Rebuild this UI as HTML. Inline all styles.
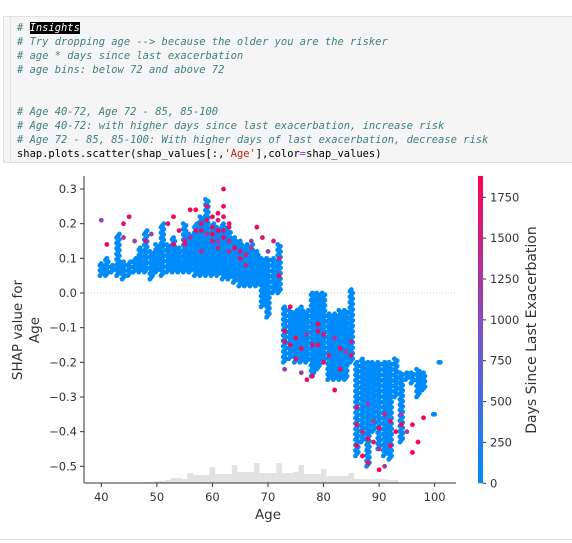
<!DOCTYPE html>
<html><head><meta charset="utf-8"><style>
body{margin:0;width:572px;height:543px;background:#fff;overflow:hidden;position:relative;font-family:"DejaVu Sans","Liberation Sans",sans-serif}
#cell{position:absolute;left:3px;top:16px;width:569px;height:147px;background:#f5f5f5;border:1px solid #e0e0e0;border-right:none;box-sizing:border-box}
#cell:before{content:"";position:absolute;left:6px;top:0;bottom:0;width:1px;background:#e3e3e3}
pre{margin:0;position:absolute;left:13px;top:4px;font-family:"DejaVu Sans Mono","Liberation Mono",monospace;font-size:10.45px;line-height:14px;color:#000}
.c{color:#408080;font-style:italic}
.hl{background:#000;color:#fff}
.s{color:#ba2121}.o{color:#aa22ff}
svg{position:absolute;left:0;top:0}
#bl{position:absolute;left:0;top:539px;width:572px;height:1px;background:#ddd}
</style></head><body>
<div id="cell"><pre><span class="c"># <span class="hl">Insights</span></span>
<span class="c"># Try dropping age --&gt; because the older you are the risker</span>
<span class="c"># age * days since last exacerbation</span>
<span class="c"># age bins: below 72 and above 72</span>


<span class="c"># Age 40-72, Age 72 - 85, 85-100</span>
<span class="c"># Age 40-72: with higher days since last exacerbation, increase risk</span>
<span class="c"># Age 72 - 85, 85-100: With higher days of last exacerbation, decrease risk</span>
shap.plots.scatter(shap_values[:,<span class="s">'Age'</span>],color<span class="o">=</span>shap_values)</pre></div>
<div id="bl"></div>
<svg id="chart" width="572" height="543"></svg>
<script>
const ages=[40,41,42,43,44,45,46,47,48,49,50,51,52,53,54,55,56,57,58,59,60,61,62,63,64,65,66,67,68,69,70,71,72,73,74,75,76,77,78,79,80,81,82,83,84,85,86,87,88,89,90,91,92,93,94,95,96,97,98,100,101];
const bandTop=[0.085,0.1,0.08,0.17,0.09,0.09,0.1,0.13,0.18,0.12,0.14,0.2,0.14,0.16,0.13,0.2,0.17,0.2,0.22,0.27,0.2,0.19,0.2,0.18,0.16,0.15,0.14,0.14,0.12,0.1,0.1,0.1,0.14,-0.04,-0.05,-0.05,-0.04,-0.05,0.0,0.0,0.0,-0.06,-0.06,-0.05,-0.05,0.01,-0.2,-0.19,-0.2,-0.2,-0.2,-0.2,-0.2,-0.19,-0.23,-0.23,-0.23,-0.22,-0.23,-0.35,-0.2];
const bandBottom=[0.05,0.05,0.06,0.05,0.04,0.05,0.06,0.06,0.06,0.04,0.06,0.05,0.06,0.06,0.06,0.06,0.06,0.05,0.05,0.05,0.05,0.05,0.04,0.04,0.03,0.02,0.02,0.02,0.02,-0.04,-0.07,0.0,0.0,-0.2,-0.19,-0.2,-0.2,-0.2,-0.24,-0.22,-0.2,-0.25,-0.25,-0.25,-0.25,-0.2,-0.47,-0.43,-0.5,-0.4,-0.45,-0.47,-0.48,-0.3,-0.43,-0.25,-0.26,-0.3,-0.28,-0.35,-0.2];
const ptAge=[40,41,44,44,45,46,48,49,52,53,54,55,56,57,58,58,59,60,60,61,61,62,62,62,63,63,64,65,66,67,68,69,70,71,72,72,
 57,58,59,59,60,60,61,61,61,62,62,63,63,64,65,66,67,56,55,53,
 73,73,74,75,76,77,77,78,79,79,80,81,82,82,83,84,85,74,76,79,73,75,78,80,83,85,
 86,86,87,87,88,88,89,89,90,90,91,91,92,92,93,94,94,96,96,97,98,86,88,90,95];
const ptVal=[0.21,0.14,0.2,0.16,0.22,0.15,0.15,0.17,0.2,0.22,0.18,0.14,0.24,0.24,0.18,0.12,0.25,0.22,0.15,0.23,0.13,0.3,0.25,0.18,0.2,0.12,0.13,0.1,0.08,0.15,0.19,0.16,0.12,0.15,0.05,0.1,
 0.18,0.2,0.21,0.17,0.19,0.17,0.21,0.18,0.15,0.22,0.16,0.19,0.15,0.13,0.12,0.11,0.13,0.16,0.15,0.14,
 -0.11,-0.22,-0.15,-0.19,-0.16,-0.25,-0.12,-0.24,-0.15,-0.09,-0.2,-0.18,-0.28,-0.13,-0.22,-0.17,-0.18,-0.04,-0.23,-0.11,-0.14,-0.13,-0.15,-0.12,-0.16,-0.14,
 -0.38,-0.44,-0.47,-0.4,-0.42,-0.49,-0.37,-0.43,-0.39,-0.51,-0.35,-0.5,-0.44,-0.37,-0.4,-0.38,-0.35,-0.38,-0.46,-0.43,-0.36,-0.33,-0.32,-0.45,-0.4];
const ptDays=[1100,1800,1700,1300,1750,1200,1600,1150,1750,1800,1700,1500,1800,1800,1750,1400,1700,1800,1600,1850,1500,1800,1750,1650,1800,1300,1600,1700,1500,1200,1800,1700,1100,1600,1800,1500,
 1800,1700,1800,1300,1750,1850,1600,1800,1200,1700,1800,1750,1400,1800,1600,1500,1200,1300,1700,1800,
 1800,1100,1750,1700,1800,1750,1200,1800,1700,1850,1750,1600,1800,1300,1750,1150,1700,1850,1200,1800,1700,1800,1750,1650,1800,1500,
 1800,1700,1850,1500,1800,1750,1100,1700,1800,1850,1500,1200,1800,1700,1750,1800,1150,1800,1850,1800,1750,1650,1100,1300,1200];
const histBins=[48,50,52,53,55,56,57,59,60,61,63,64,65,67,68,69,71,72,73,75,76,77,79,80,81,83,84,85,86,88,90,92];
const histCount=[1,2,3,5,4,10,8,8,16,9,9,18,11,11,20,10,10,20,10,11,18,9,9,14,7,7,7,10,4,4,4,3];
const xTicks=[40,50,60,70,80,90,100];
const yTicks=[0.3,0.2,0.1,0.0,-0.1,-0.2,-0.3,-0.4,-0.5];
const cTicks=[0,250,500,750,1000,1250,1500,1750];

const X=a=>101.3+(a-40)*5.556;
const Y=v=>293-v*346.6;
const CB=d=>483.3-d*0.16344;
const NS="http://www.w3.org/2000/svg";
const svg=document.getElementById('chart');
function mk(t,at){const e=document.createElementNS(NS,t);for(const k in at)e.setAttribute(k,at[k]);svg.appendChild(e);return e;}
function col(d){const t=Math.max(0,Math.min(1,d/1878));
 const s=[[0,139,251],[124,82,198],[255,0,82]];
 let a,b,u;if(t<0.5){a=s[0];b=s[1];u=t*2}else{a=s[1];b=s[2];u=(t-0.5)*2}
 return `rgb(${a.map((v,i)=>Math.round(v+(b[i]-v)*u)).join(',')})`;}
histBins.forEach((b,i)=>{const h=histCount[i];const r=mk('rect',{x:X(b)-2.8,y:483-h,width:(i<histBins.length-1?X(histBins[i+1])-X(b):11),height:h,fill:'#e2e2e2'});

});
const zl=mk('line',{x1:85,x2:455,y1:Y(0),y2:Y(0),stroke:'#ccc','stroke-dasharray':'1,2','stroke-width':1});


ages.forEach((a,i)=>{const t=bandTop[i],b=bandBottom[i];const n=Math.max(1,Math.round((t-b)*346.6/1.8));
 for(let k=0;k<=n;k++){const v=b+(t-b)*k/n;const off=((k%3)-1)*1.4;
  const c=mk('circle',{cx:X(a)+off,cy:Y(v),r:2.4,fill:'#008bfb'});
  
  }});
ptAge.forEach((a,i)=>{const c=mk('circle',{cx:X(a),cy:Y(ptVal[i]),r:2.4,fill:col(ptDays[i])});
 
 });
mk('line',{x1:84,x2:84,y1:176,y2:483,stroke:'#333','stroke-width':1});
mk('line',{x1:84,x2:456,y1:483,y2:483,stroke:'#333','stroke-width':1});
xTicks.forEach(t=>{mk('line',{x1:X(t),x2:X(t),y1:483,y2:487,stroke:'#333'});
 const e=mk('text',{x:X(t),y:501,'text-anchor':'middle','font-size':'11.5',fill:'#333'});e.textContent=t;
 
 });
yTicks.forEach(t=>{mk('line',{x1:80,x2:84,y1:Y(t),y2:Y(t),stroke:'#333'});
 const e=mk('text',{x:77,y:Y(t)+4,'text-anchor':'end','font-size':'11.5',fill:'#333'});e.textContent=(t<0?'\u2212':'')+Math.abs(t).toFixed(1);
 
 });
let e=mk('text',{x:268,y:519,'text-anchor':'middle','font-size':'13.5',fill:'#333'});e.textContent='Age';


e=mk('text',{transform:'translate(22,330) rotate(-90)','text-anchor':'middle','font-size':'13.5',fill:'#333'});e.textContent='SHAP value for';


e=mk('text',{transform:'translate(39,330) rotate(-90)','text-anchor':'middle','font-size':'13.5',fill:'#333'});e.textContent='Age';


const defs=mk('defs',{});const g=document.createElementNS(NS,'linearGradient');g.setAttribute('id','cg');g.setAttribute('x1','0');g.setAttribute('y1','1');g.setAttribute('x2','0');g.setAttribute('y2','0');
[[0,'#008bfb'],[0.5,'#7c52c6'],[1,'#ff0052']].forEach(([o,c])=>{const s=document.createElementNS(NS,'stop');s.setAttribute('offset',o);s.setAttribute('stop-color',c);g.appendChild(s);});defs.appendChild(g);
e=mk('rect',{x:478,y:176,width:5,height:307.3,fill:'url(#cg)'});


cTicks.forEach(t=>{mk('line',{x1:483,x2:486,y1:CB(t),y2:CB(t),stroke:'#333'});
 const x=mk('text',{x:490,y:CB(t)+4,'font-size':'11.5',fill:'#333'});x.textContent=t;
 
 });
e=mk('text',{transform:'translate(536,330) rotate(-90)','text-anchor':'middle','font-size':'14',fill:'#333'});e.textContent='Days Since Last Exacerbation';


</script>
</body></html>
